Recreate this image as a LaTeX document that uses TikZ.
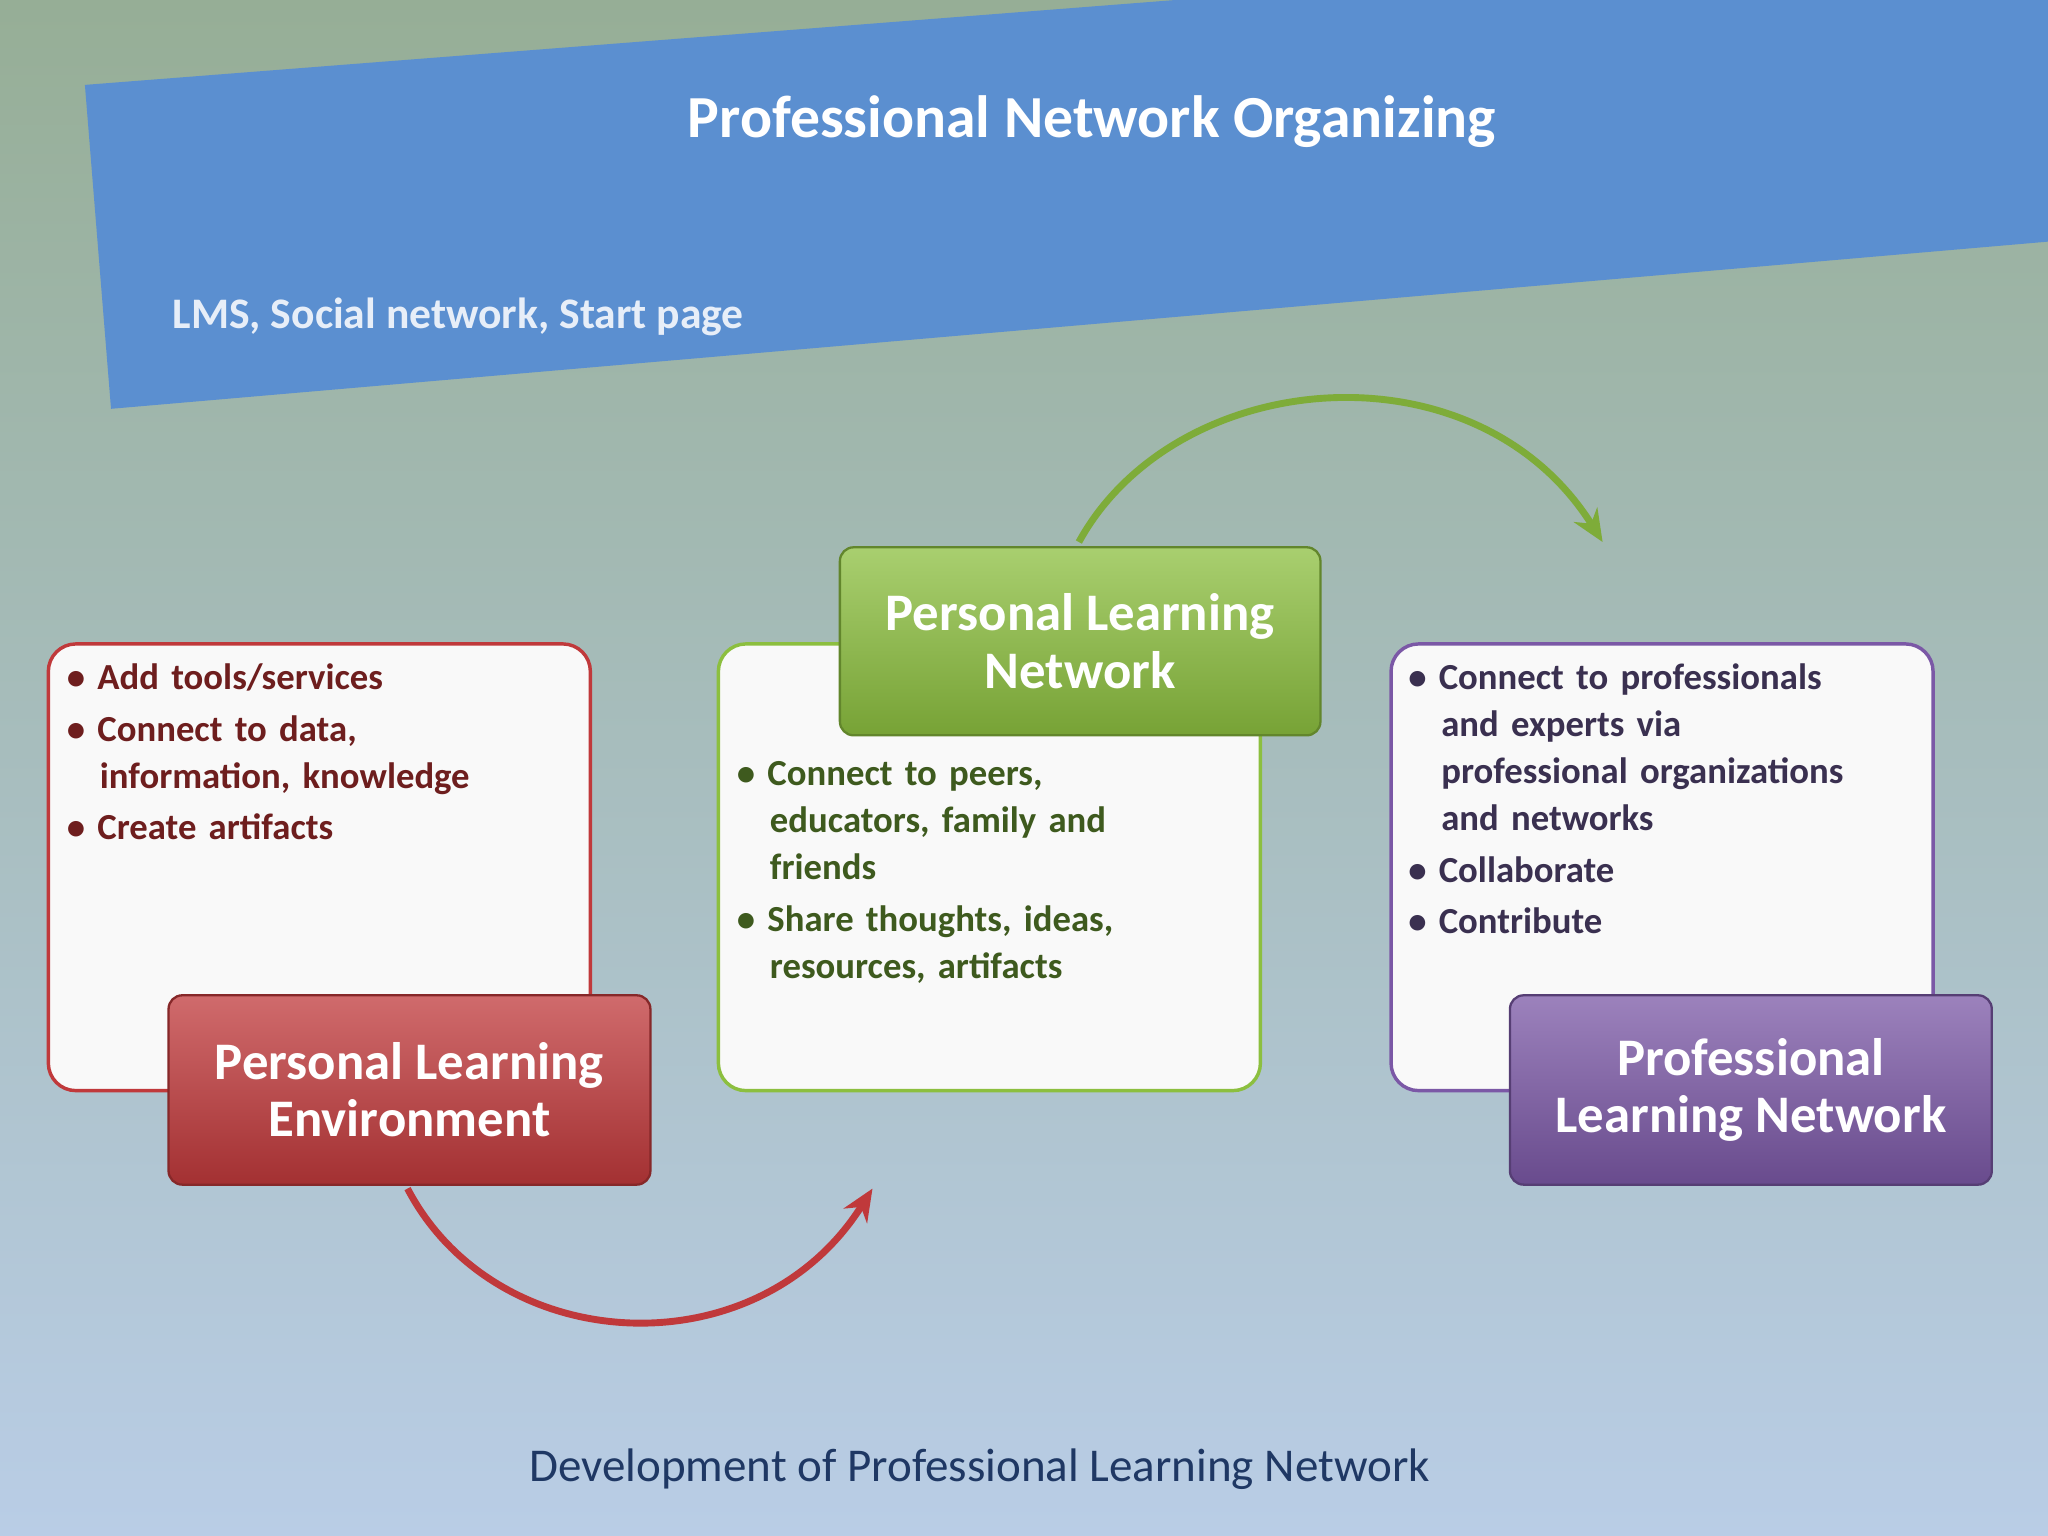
\documentclass[tikz,border=0pt]{standalone}
\usepackage{fontspec}
\setmainfont{Carlito}
\usetikzlibrary{arrows.meta}
\definecolor{bannerblue}{HTML}{5B8FD0}
\definecolor{bgtop}{HTML}{96AE96}
\definecolor{bgbot}{HTML}{B9CDE6}
\definecolor{redd}{HTML}{C0393B}
\definecolor{greenl}{HTML}{8CBF3F}
\definecolor{purp}{HTML}{7B58A6}
\definecolor{redtxt}{HTML}{6E1E1E}
\definecolor{greentxt}{HTML}{3E5A1E}
\definecolor{purtxt}{HTML}{3A3050}
\begin{document}
\begin{tikzpicture}[x=0.02cm,y=-0.02cm,
  wbox/.style={draw=#1,line width=1.5pt,rounded corners=12pt,fill=white!95!gray},
  lbl/.style={draw=#1!70!black,line width=1pt,rounded corners=6pt,top color=#1!75!white,bottom color=#1!85!black,text=white,font=\fontsize{23}{25}\selectfont\bfseries,align=center},
  btxt/.style={anchor=north west,align=left,text width=#1,font=\fontsize{16}{20.5}\selectfont\bfseries},
  arr/.style={line width=3pt,-{Stealth[length=14pt,width=12pt]}}]
\useasboundingbox (0,0) rectangle (1568,1176);
\shade[top color=bgtop,bottom color=bgbot] (0,0) rectangle (1568,1176);
\fill[bannerblue] (65,65) -- (900,0) -- (1568,0) -- (1568,185) -- (85,313) -- cycle;
\node (title) at (836,93) {\color{white}\fontsize{26}{30}\selectfont\bfseries Professional Network Organizing};
\node[anchor=west] (sub) at (126,243) {\color{white!85!bannerblue}\fontsize{19}{22}\selectfont\bfseries LMS, Social network, Start page};

\draw[wbox=redd] (37,493) rectangle (452,835);
\node[btxt=7.6cm,text=redtxt] (lt) at (45,502) {\textbullet\ Add tools/services\\[2pt]\textbullet\ Connect to data,\\\hspace*{0.9em}information, knowledge\\[2pt]\textbullet\ Create artifacts};
\node[lbl=redd,minimum width=7.38cm,minimum height=2.9cm] (ple) at (313.5,834.5) {Personal Learning\\Environment};

\draw[wbox=greenl] (550,493) rectangle (965,835);
\node[btxt=7.6cm,text=greentxt] (mt) at (558,577) {\textbullet\ Connect to peers,\\\hspace*{0.9em}educators, family and\\\hspace*{0.9em}friends\\[2pt]\textbullet\ Share thoughts, ideas,\\\hspace*{0.9em}resources, artifacts};
\node[lbl=greenl,minimum width=7.36cm,minimum height=2.88cm] (pln) at (827,491) {Personal Learning\\Network};

\draw[wbox=purp] (1065,493) rectangle (1480,835);
\node[btxt=8cm,text=purtxt] (rt) at (1072,502) {\textbullet\ Connect to professionals\\\hspace*{0.9em}and experts via\\\hspace*{0.9em}professional organizations\\\hspace*{0.9em}and networks\\[2pt]\textbullet\ Collaborate\\[2pt]\textbullet\ Contribute};
\node[lbl=purp,minimum width=7.38cm,minimum height=2.9cm] (prln) at (1340.5,834.5) {Professional\\Learning Network};

\coordinate (r1) at (312,910);
\coordinate (r2) at (668,910);
\draw[arr,draw=redd] (r1) .. controls (380,1040) and (580,1050) .. (r2);
\coordinate (g1) at (826,415);
\coordinate (g2) at (1227,415);
\draw[arr,draw=greenl!90!black] (g1) .. controls (900,280) and (1130,260) .. (g2);

\node (cap) at (750,1125) {\color[HTML]{1F3864}\fontsize{20.5}{24}\selectfont Development of Professional Learning Network};
\end{tikzpicture}
\end{document}
